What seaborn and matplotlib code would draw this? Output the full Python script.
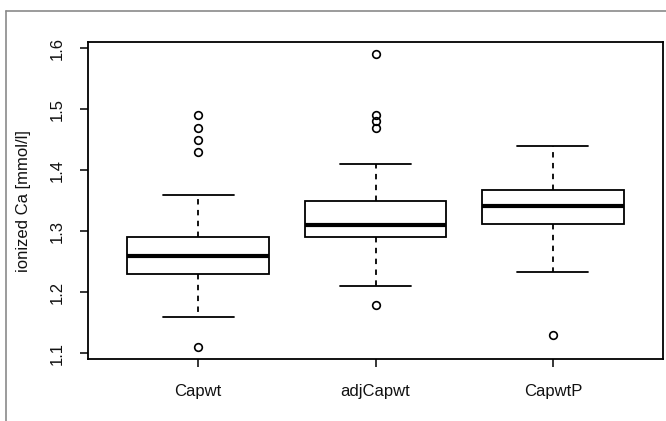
import pandas as pd
import matplotlib
matplotlib.use("Agg")
import matplotlib.pyplot as plt
from matplotlib.lines import Line2D
import seaborn as sns

# --- Data ---
GROUPS = ["Capwt", "adjCapwt", "CapwtP"]

capwt = [1.11, 1.16, 1.18, 1.20, 1.22, 1.23, 1.24, 1.25, 1.25, 1.26, 1.26,
         1.27, 1.27, 1.28, 1.29, 1.29, 1.36, 1.43, 1.45, 1.47, 1.49]
adj_capwt = [1.18, 1.21, 1.24, 1.27, 1.28, 1.29, 1.29, 1.30, 1.30, 1.31, 1.31,
             1.32, 1.33, 1.34, 1.35, 1.35, 1.41, 1.47, 1.48, 1.49, 1.59]
capwt_p = [1.13, 1.234, 1.26, 1.28, 1.30, 1.312, 1.32, 1.33, 1.335, 1.34, 1.341,
           1.345, 1.35, 1.355, 1.36, 1.367, 1.38, 1.39, 1.41, 1.42, 1.44]

y_ticks = [1.1, 1.2, 1.3, 1.4, 1.5, 1.6]
y_label = "ionized Ca [mmol/l]"

df = pd.DataFrame({
    "group": ["Capwt"] * len(capwt) + ["adjCapwt"] * len(adj_capwt) + ["CapwtP"] * len(capwt_p),
    "value": capwt + adj_capwt + capwt_p,
})

sns.set_style("white")
plt.rcParams["font.family"] = ["Liberation Sans", "DejaVu Sans"]
plt.rcParams["text.color"] = "#111111"
plt.rcParams["axes.labelcolor"] = "#111111"
plt.rcParams["xtick.color"] = "black"
plt.rcParams["ytick.color"] = "black"
plt.rcParams["xtick.labelcolor"] = "#111111"
plt.rcParams["ytick.labelcolor"] = "#111111"

fig = plt.figure(figsize=(6.66, 4.21), dpi=100)
ax = fig.add_axes([88 / 666, 1 - 359 / 421, (663 - 88) / 666, (359 - 42.3) / 421])

sns.boxplot(
    data=df, x="group", y="value", order=GROUPS, ax=ax,
    color="white", linecolor="black", linewidth=1.3, width=0.8, whis=1.5,
    medianprops={"linewidth": 3.0, "color": "black"},
    whiskerprops={"linestyle": (0, (3, 3)), "color": "black"},
    flierprops={"marker": "o", "markerfacecolor": "none",
                "markeredgecolor": "black", "markersize": 5.5, "markeredgewidth": 1.2},
)

ax.set_xlim(0.38 - 1, 3.62 - 1)
ax.set_ylim(1.0907, 1.6098)
ax.set_yticks(y_ticks)
ax.set_yticklabels([f"{t:.1f}" for t in y_ticks], rotation=90, va="center")
ax.set_xlabel("")
ax.set_ylabel(y_label, fontsize=12, labelpad=13)

for s in ax.spines.values():
    s.set_visible(True)
    s.set_color("black")
    s.set_linewidth(1.3)

ax.tick_params(axis="both", which="major", direction="out", length=6,
               width=1.1, labelsize=12, left=True, bottom=True)
ax.tick_params(axis="y", pad=11)
ax.tick_params(axis="x", pad=12)

# outer gray frame of the original screenshot
gray = "#8a8a8a"
fig.add_artist(Line2D([6 / 666, 6 / 666], [0, 1 - 10.7 / 421],
                      transform=fig.transFigure, color=gray, lw=1.2))
fig.add_artist(Line2D([6 / 666, 1], [1 - 10.7 / 421, 1 - 10.7 / 421],
                      transform=fig.transFigure, color=gray, lw=1.2))

fig.savefig("out.png", dpi=100, facecolor="white")
